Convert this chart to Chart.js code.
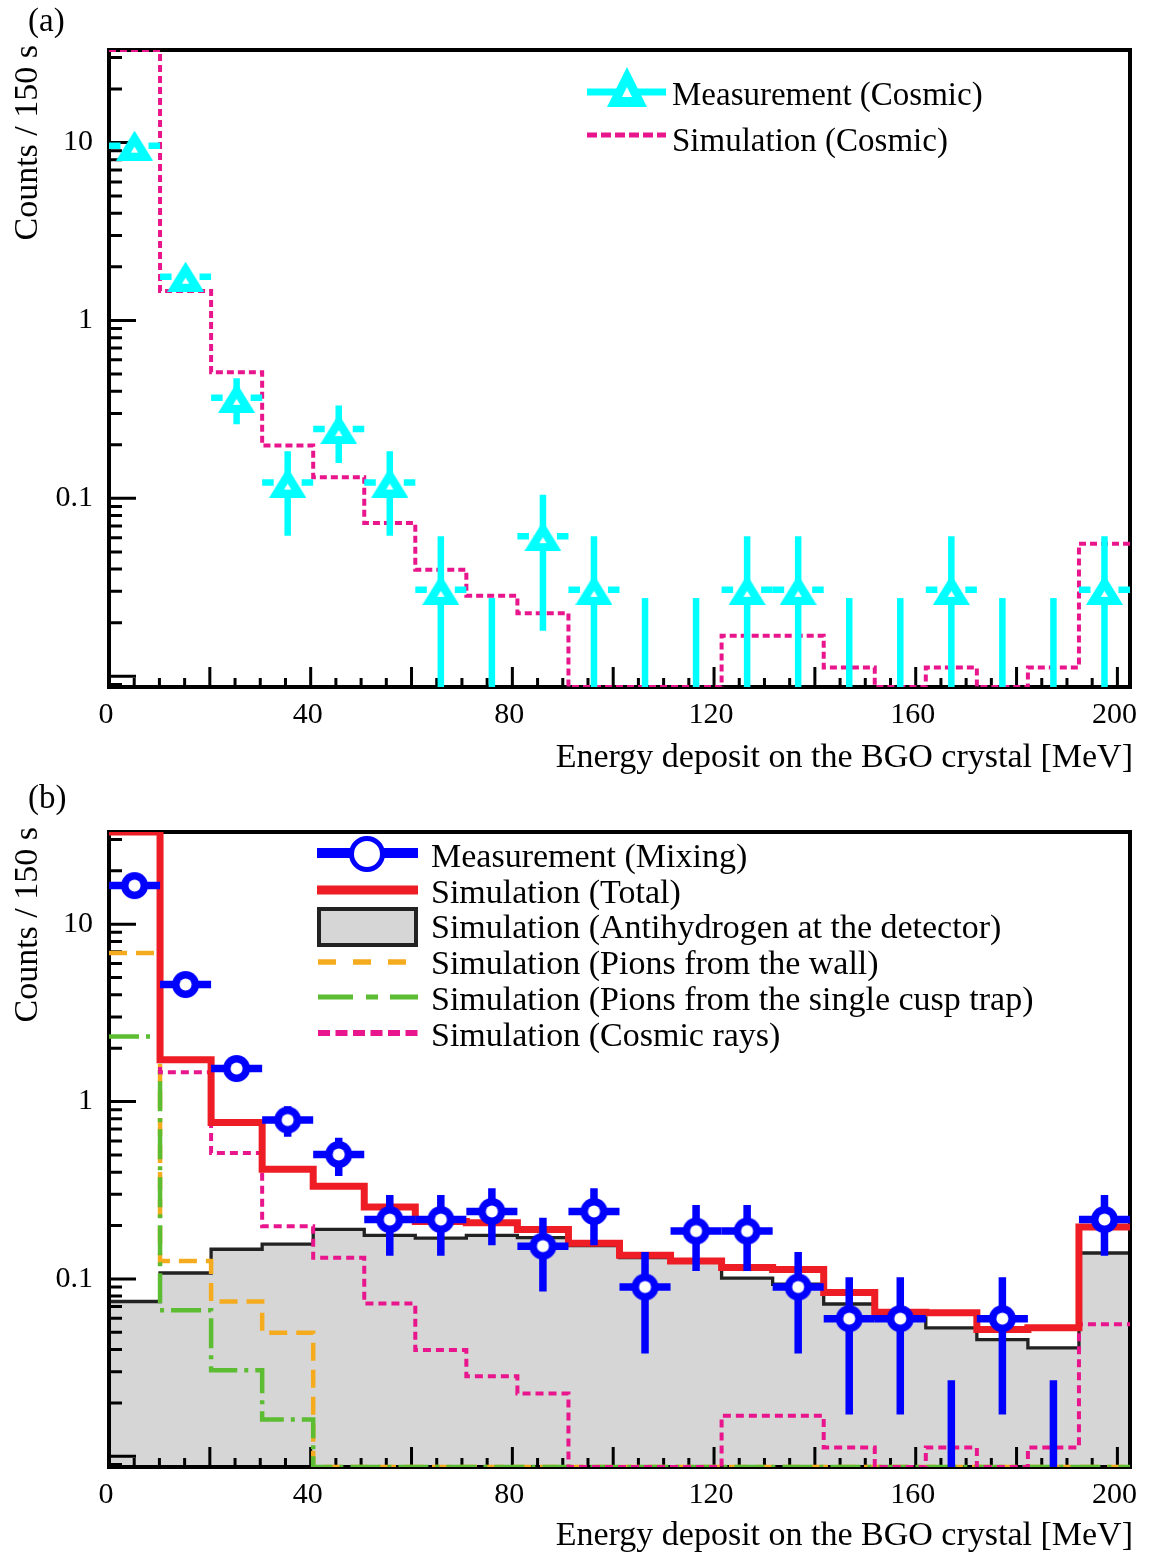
<!DOCTYPE html>
<html>
<head>
<meta charset="utf-8">
<script src="https://cdn.jsdelivr.net/npm/chart.js@4.4.1/dist/chart.umd.min.js"></script>
<style>
  html, body { margin: 0; padding: 0; background: #fff; }
  canvas { display: block; }
</style>
</head>
<body>
<canvas id="chartA" width="1153" height="780"></canvas>
<canvas id="chartB" width="1153" height="773"></canvas>
<script>
// ---- binning and axes ----
const BIN_EDGES = [0, 10.125, 20.25, 30.375, 40.5, 50.625, 60.75, 70.875, 81, 91.125,
                   101.25, 111.375, 121.5, 131.625, 141.75, 151.875, 162, 172.125, 182.25, 192.375, 202.5];
const X_LABELS = [0, 40, 80, 120, 160, 200];
const Y_LABELS = [0.1, 1, 10];
const Y_MIN = 0.0087;
const Y_MAX = 33.1;

// ---- (a) cosmic run ----
const MEAS_COSMIC     = [9.6, 1.76, 0.367, 0.1226, 0.245, 0.1226, 0.0306, 0, 0.0613, 0.0306,
                         0, 0, 0.0306, 0.0306, 0, 0, 0.0306, 0, 0, 0.0306];
const MEAS_COSMIC_ERR = [0.54, 0.232, 0.106, 0.061, 0.087, 0.061, 0.0306, 0.0275, 0.0433, 0.0306,
                         0.0275, 0.0275, 0.0306, 0.0306, 0.0275, 0.0275, 0.0306, 0.0275, 0.0275, 0.0306];
const SIM_COSMIC      = [33.1, 1.465, 0.512, 0.198, 0.1315, 0.0726, 0.0397, 0.0283, 0.0226, 0,
                         0, 0, 0.0169, 0.0169, 0.0112, 0, 0.0112, 0, 0.0112, 0.0556];

// ---- (b) mixing run ----
const MEAS_MIXING     = [16.5, 4.57, 1.535, 0.787, 0.503, 0.216, 0.216, 0.240, 0.153, 0.240,
                         0.090, 0.186, 0.186, 0.090, 0.0597, 0.0597, 0, 0.0597, 0, 0.216];
const MEAS_MIXING_ERR = [0.70, 0.37, 0.215, 0.154, 0.123, 0.081, 0.081, 0.085, 0.068, 0.085,
                         0.052, 0.075, 0.075, 0.052, 0.0425, 0.0425, 0.0268, 0.0425, 0.0268, 0.081];
const SIM_TOTAL = [33.1, 1.723, 0.761, 0.415, 0.333, 0.254, 0.211, 0.207, 0.190, 0.159,
                   0.136, 0.126, 0.116, 0.113, 0.0838, 0.0648, 0.0644, 0.0518, 0.0530, 0.196];
const SIM_HBAR  = [0.0746, 0.108, 0.147, 0.157, 0.190, 0.176, 0.170, 0.176, 0.171, 0.154,
                   0.132, 0.128, 0.101, 0.0933, 0.0722, 0.0602, 0.0530, 0.0455, 0.0409, 0.140];
const SIM_WALL  = [6.88, 0.126, 0.0746, 0.0497, 0, 0, 0, 0, 0, 0,
                   0, 0, 0, 0, 0, 0, 0, 0, 0, 0];
const SIM_CUSP  = [2.33, 0.0665, 0.0306, 0.0161, 0, 0, 0, 0, 0, 0,
                   0, 0, 0, 0, 0, 0, 0, 0, 0, 0];

const CYAN   = '#00ffff';
const BLUE   = '#0000ff';
const RED    = '#ee1c24';
const PINK   = '#e8158c';
const ORANGE = '#f5ab1e';
const GREEN  = '#5cbc32';
const GREY   = '#d6d6d6';
const FONT   = '"Liberation Serif", "Times New Roman", serif';

Chart.defaults.font.family = FONT;
Chart.defaults.color = '#000';

function binCenter(i) { return (BIN_EDGES[i] + BIN_EDGES[i + 1]) / 2; }

// histogram outline: two points per bin, empty bins sit on the axis floor
function stepPoints(values) {
    const pts = [];
    values.forEach((v, i) => {
        const y = Math.max(v, Y_MIN);
        pts.push({ x: BIN_EDGES[i], y }, { x: BIN_EDGES[i + 1], y });
    });
    return pts;
}

function markerPoints(values) {
    return values.map((v, i) => ({ x: binCenter(i), y: v > 0 ? v : null }));
}

function triangleImage(w, h, color, hole) {
    const c = document.createElement('canvas');
    c.width = w; c.height = h;
    const g = c.getContext('2d');
    g.fillStyle = color;
    g.beginPath(); g.moveTo(w / 2, 0); g.lineTo(w, h); g.lineTo(0, h); g.closePath(); g.fill();
    const cx = w / 2, cy = h * 2 / 3;
    g.fillStyle = '#fff';
    g.beginPath();
    g.moveTo(cx, cy - cy * hole);
    g.lineTo(cx + (w / 2) * hole, cy + (h - cy) * hole);
    g.lineTo(cx - (w / 2) * hole, cy + (h - cy) * hole);
    g.closePath(); g.fill();
    return c;
}

function circleImage(rOut, rIn, color) {
    const c = document.createElement('canvas');
    c.width = c.height = Math.ceil(rOut * 2) + 2;
    const g = c.getContext('2d');
    const m = c.width / 2;
    g.fillStyle = color;
    g.beginPath(); g.arc(m, m, rOut, 0, Math.PI * 2); g.fill();
    g.fillStyle = '#fff';
    g.beginPath(); g.arc(m, m, rIn, 0, Math.PI * 2); g.fill();
    return c;
}

const TRI_IMG     = triangleImage(37, 30, CYAN, 0.2);
const TRI_LEG_IMG = triangleImage(40, 40, CYAN, 0.25);
const CIRC_IMG    = circleImage(13.5, 6, BLUE);

function histDataset(values, color, width, dash, extra) {
    return Object.assign({
        data: stepPoints(values),
        borderColor: color,
        borderWidth: width,
        borderDash: dash,
        pointRadius: 0,
        pointHoverRadius: 0,
        fill: false,
        tension: 0,
        showLine: true,
    }, extra || {});
}

function markerDataset(values, errors, img, color, barWidth, barGap) {
    return {
        data: markerPoints(values),
        showLine: false,
        pointStyle: img,
        pointRadius: 15,
        pointHoverRadius: 15,
        values, errors, barColor: color, barWidth, barGap,
    };
}

function drawFrame(chart) {
    const { ctx, chartArea: a, scales: { x, y } } = chart;
    ctx.save();
    ctx.strokeStyle = '#000';
    ctx.lineWidth = 3;
    ctx.beginPath();
    for (let e = -3; e <= 2; e++) {
        for (let k = 1; k <= 9; k++) {
            const v = k * Math.pow(10, e);
            if (v < Y_MIN || v > Y_MAX) continue;
            const py = y.getPixelForValue(v);
            ctx.moveTo(a.left, py);
            ctx.lineTo(a.left + (k === 1 ? 27 : 13), py);
        }
    }
    for (let v = 0; v <= 200; v += 5) {
        const px = x.getPixelForValue(v);
        ctx.moveTo(px, a.bottom);
        ctx.lineTo(px, a.bottom - (v % 20 === 0 ? 20 : 9));
    }
    ctx.stroke();
    ctx.lineWidth = 4;
    ctx.strokeRect(a.left, a.top, a.right - a.left, a.bottom - a.top);
    ctx.restore();
}

function drawErrors(chart, ds) {
    const { ctx, chartArea: a, scales: { x, y } } = chart;
    ctx.save();
    ctx.strokeStyle = ds.barColor;
    ctx.lineWidth = ds.barWidth;
    ctx.lineCap = 'butt';
    ds.values.forEach((v, i) => {
        const cx = x.getPixelForValue(binCenter(i));
        const lo = v - ds.errors[i];
        const hi = v + ds.errors[i];
        const yHi = y.getPixelForValue(hi);
        const yLo = lo > Y_MIN ? y.getPixelForValue(lo) : a.bottom;
        ctx.beginPath();
        ctx.moveTo(cx, yLo); ctx.lineTo(cx, yHi);
        if (v > 0) {
            const cy = y.getPixelForValue(v);
            const xl = x.getPixelForValue(BIN_EDGES[i]);
            const xr = x.getPixelForValue(BIN_EDGES[i + 1]);
            ctx.moveTo(xl, cy); ctx.lineTo(cx - ds.barGap, cy);
            ctx.moveTo(cx + ds.barGap, cy); ctx.lineTo(xr, cy);
        }
        ctx.stroke();
    });
    ctx.restore();
}

function legendLine(ctx, x0, x1, y, color, width, dash) {
    ctx.save();
    ctx.strokeStyle = color;
    ctx.lineWidth = width;
    ctx.setLineDash(dash || []);
    ctx.beginPath(); ctx.moveTo(x0, y); ctx.lineTo(x1, y); ctx.stroke();
    ctx.restore();
}

// per-panel decorations: panel tag, axis titles, legend
const PANELS = {
    chartA: {
        tag: '(a)', tagY: 31, xTitleY: 767,
        legendFont: 33, textX: 672,
        legend(ctx) {
            legendLine(ctx, 587, 666, 92, CYAN, 7);
            ctx.drawImage(TRI_LEG_IMG, 627 - 20, 87 - 20);
            legendLine(ctx, 587, 666, 135, PINK, 5, [10, 4]);
            return [['Measurement (Cosmic)', 105], ['Simulation (Cosmic)', 151]];
        },
    },
    chartB: {
        tag: '(b)', tagY: 28, xTitleY: 765,
        legendFont: 34, textX: 431,
        legend(ctx) {
            legendLine(ctx, 317, 418, 73, BLUE, 10);
            ctx.save();
            ctx.fillStyle = '#fff'; ctx.strokeStyle = BLUE; ctx.lineWidth = 5;
            ctx.beginPath(); ctx.arc(367, 74, 15.5, 0, Math.PI * 2); ctx.fill(); ctx.stroke();
            ctx.restore();
            legendLine(ctx, 317, 418, 110, RED, 9);
            ctx.save();
            ctx.fillStyle = GREY; ctx.strokeStyle = '#222'; ctx.lineWidth = 4;
            ctx.fillRect(319, 129, 97, 36); ctx.strokeRect(319, 129, 97, 36);
            ctx.restore();
            legendLine(ctx, 318, 418, 182, ORANGE, 5.5, [18, 17]);
            legendLine(ctx, 318, 418, 217, GREEN, 5, [35, 13, 12, 12]);
            legendLine(ctx, 318, 418, 253, PINK, 6, [12, 5.5]);
            return [
                ['Measurement (Mixing)', 86.7],
                ['Simulation (Total)', 122.5],
                ['Simulation (Antihydrogen at the detector)', 158.3],
                ['Simulation (Pions from the wall)', 194],
                ['Simulation (Pions from the single cusp trap)', 230],
                ['Simulation (Cosmic rays)', 265.8],
            ];
        },
    },
};

const rootStyle = {
    id: 'rootStyle',
    beforeDatasetsDraw(chart) { chart.$frameDone = false; },
    beforeDatasetDraw(chart, args) {
        const ds = chart.data.datasets[args.index];
        if (!chart.$frameDone && !ds.isFill) {
            drawFrame(chart);
            chart.$frameDone = true;
        }
        if (ds.errors) drawErrors(chart, ds);
    },
    afterDraw(chart) {
        const p = PANELS[chart.canvas.id];
        const { ctx, chartArea: a } = chart;
        ctx.save();
        ctx.fillStyle = '#000';
        ctx.textBaseline = 'alphabetic';
        ctx.font = '33px ' + FONT;
        ctx.textAlign = 'left';
        ctx.fillText(p.tag, 28, p.tagY);
        ctx.font = '34px ' + FONT;
        ctx.textAlign = 'right';
        ctx.fillText('Energy deposit on the BGO crystal [MeV]', 1133, p.xTitleY);
        ctx.save();
        ctx.translate(37, a.top - 5);
        ctx.rotate(-Math.PI / 2);
        ctx.textAlign = 'right';
        ctx.fillText('Counts / 150 s', 0, 0);
        ctx.restore();
        const rows = p.legend(ctx);
        ctx.font = p.legendFont + 'px ' + FONT;
        ctx.textAlign = 'left';
        rows.forEach(([t, by]) => ctx.fillText(t, p.textX, by));
        ctx.restore();
    },
};

function makeChart(id, top, bottom, datasets) {
    const canvas = document.getElementById(id);
    const H = canvas.height;
    return new Chart(canvas, {
        type: 'line',
        data: { datasets },
        options: {
            responsive: false,
            animation: false,
            events: [],
            layout: { autoPadding: false, padding: { top, right: 23, left: 0, bottom: 0 } },
            plugins: { legend: { display: false }, tooltip: { enabled: false } },
            scales: {
                x: {
                    type: 'linear', min: 0, max: 202.5, bounds: 'data',
                    grid: { display: false, drawTicks: false },
                    border: { display: false },
                    afterBuildTicks: s => { s.ticks = X_LABELS.map(value => ({ value })); },
                    afterFit: s => { s.height = H - bottom; },
                    ticks: {
                        autoSkip: false, maxRotation: 0, padding: 10, labelOffset: -3,
                        font: { size: 30 }, color: '#000',
                        callback: v => String(v),
                    },
                },
                y: {
                    type: 'logarithmic', min: Y_MIN, max: Y_MAX, bounds: 'data',
                    grid: { display: false, drawTicks: false },
                    border: { display: false },
                    afterBuildTicks: s => { s.ticks = Y_LABELS.map(value => ({ value })); },
                    afterFit: s => { s.width = 109; },
                    ticks: {
                        autoSkip: false, padding: 16,
                        font: { size: 30 }, color: '#000',
                        callback: v => String(v),
                    },
                },
            },
        },
        plugins: [rootStyle],
    });
}

// datasets listed top-most first (Chart.js paints the last one first)
makeChart('chartA', 50, 687, [
    markerDataset(MEAS_COSMIC, MEAS_COSMIC_ERR, TRI_IMG, CYAN, 6.5, 14),
    histDataset(SIM_COSMIC, PINK, 4, [7, 4]),
]);

makeChart('chartB', 52, 687, [
    markerDataset(MEAS_MIXING, MEAS_MIXING_ERR, CIRC_IMG, BLUE, 7.5, 0),
    histDataset(SIM_TOTAL, RED, 7, []),
    histDataset(SIM_COSMIC, PINK, 4, [8, 5]),
    histDataset(SIM_CUSP, GREEN, 4.5, [30, 7, 4, 7]),
    histDataset(SIM_WALL, ORANGE, 4.5, [18, 9]),
    histDataset(SIM_HBAR, '#222', 3.3, [], { fill: 'start', backgroundColor: GREY, isFill: true }),
]);
</script>
</body>
</html>
